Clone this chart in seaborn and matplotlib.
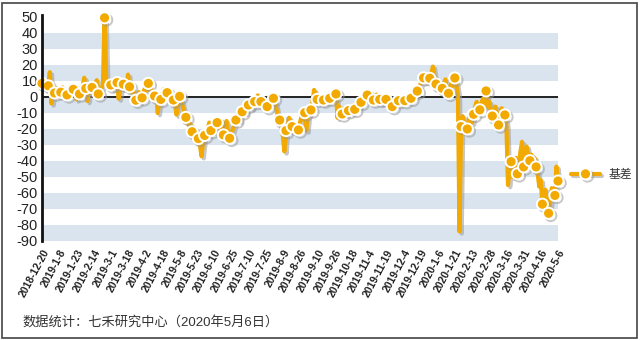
import numpy as np
import pandas as pd
import matplotlib
matplotlib.use("Agg")
import matplotlib.pyplot as plt
import matplotlib.patheffects as pe
from matplotlib.patches import Rectangle
import seaborn as sns

# Daily basis series (one value per trading day, 2018-12-20 .. 2020-05-06)
basis = [
    8.5, 6.0, 5.0, 9.0, 7.0, 15.5, -4.0, 1.0, 2.5, 5.5, 4.0, 2.0,
    3.0, 6.0, 4.5, 0.5, 1.3, 3.0, 6.5, 5.0, 4.8, 3.0, -1.5, 2.5,
    1.9, 4.0, 7.0, 12.0, 5.4, -2.5, 3.5, 8.0, 6.0, 4.0, 7.5, 10.5,
    1.9, 3.0, 5.0, 8.0, 49.5, 12.0, 8.0, 10.0, 7.5, 5.0, 10.0, 6.0,
    9.0, -1.0, 4.0, 7.0, 8.0, 10.5, 6.0, 14.0, 6.4, 3.0, 5.0, 1.0,
    -2.0, 0.5, 3.0, 1.0, -0.5, 3.5, 6.0, 4.0, 8.5, 6.0, 4.0, 2.5,
    0.6, 3.0, -10.0, -3.0, -1.5, 2.0, 5.0, 0.5, 2.7, 1.0, -3.0, 0.0,
    -1.9, -4.0, -11.0, -3.0, 0.4, -2.0, -6.0, -9.0, -12.7, -15.0, -18.0, -17.0,
    -21.7, -24.0, -28.0, -24.0, -26.0, -30.0, -37.0, -29.0, -24.0, -22.0, -20.0, -16.0,
    -21.0, -18.0, -22.0, -19.0, -16.0, -20.0, -24.0, -18.0, -23.7, -20.0, -15.0, -22.0,
    -25.8, -24.0, -20.0, -17.0, -14.4, -12.0, -15.0, -11.0, -9.2, -7.0, -10.0, -6.0,
    -5.0, -4.0, -7.0, -3.0, -2.9, -1.0, 1.0, -4.0, -2.9, -5.0, -1.5, -3.5,
    -6.0, -4.0, -2.0, 0.5, -0.8, -3.0, -8.0, -12.0, -14.4, -18.0, -24.0, -34.0,
    -21.0, -17.0, -13.0, -16.0, -18.5, -22.0, -17.0, -19.0, -20.6, -16.0, -12.0, -14.0,
    -9.8, -21.0, -12.0, -10.0, -8.1, -3.0, 4.4, 1.0, -1.5, -3.0, 0.5, -4.0,
    -1.9, -3.5, 0.0, -2.5, -0.8, 1.0, 3.0, -0.5, 1.9, -13.0, -6.0, -9.0,
    -10.6, -7.0, -11.0, -9.0, -8.5, -6.0, -9.5, -5.0, -7.7, -5.0, -3.0, -6.0,
    -3.3, -1.0, 0.5, 2.5, 1.2, -2.0, 0.0, -3.5, -1.9, 0.0, 1.5, -2.5,
    -1.5, -4.0, -1.0, 0.0, -1.5, -3.0, -4.5, -2.0, -6.0, -4.0, -1.5, -3.0,
    -2.3, -4.0, -1.0, -3.0, -2.3, -1.9, 0.5, -2.0, -0.8, 0.2, 2.0, 0.5,
    3.7, 4.4, 8.0, 10.0, 12.0, 9.5, 11.7, 14.0, 11.7, 15.0, 19.0, 12.0,
    8.1, 10.0, 7.0, 9.0, 5.4, 8.0, 11.0, 4.0, 2.3, 6.0, 9.0, 7.0,
    11.9, 8.0, 1.0, -84.0, -18.5, -12.0, -16.0, -22.0, -20.0, -14.0, -10.0, -16.0,
    -10.8, -6.0, -3.0, -9.0, -8.0, -4.0, -1.0, -5.0, 3.8, -6.0, -3.0, -8.0,
    -11.9, -9.0, -6.0, -13.0, -17.5, -10.0, -7.0, -13.0, -11.2, -18.0, -55.0, -46.0,
    -40.4, -50.0, -44.0, -38.0, -48.0, -42.0, -34.0, -28.0, -43.7, -35.0, -31.0, -37.0,
    -39.8, -36.0, -41.0, -38.0, -43.7, -48.0, -56.0, -52.0, -67.0, -65.0, -58.0, -68.0,
    -72.7, -66.0, -57.0, -60.0, -61.5, -43.5, -52.5,
]

tick_labels = [
    "2018-12-20", "2019-1-8", "2019-1-23", "2019-2-14", "2019-3-1", "2019-3-18",
    "2019-4-2", "2019-4-18", "2019-5-8", "2019-5-23", "2019-6-10", "2019-6-25",
    "2019-7-10", "2019-7-25", "2019-8-9", "2019-8-26", "2019-9-10", "2019-9-26",
    "2019-10-18", "2019-11-4", "2019-11-19", "2019-12-4", "2019-12-19", "2020-1-6",
    "2020-1-21", "2020-2-13", "2020-2-28", "2020-3-16", "2020-3-31", "2020-4-16",
    "2020-5-6",
]

series_name = "基差"
footer = "数据统计：七禾研究中心（2020年5月6日）"

y_ticks = list(range(-90, 51, 10))

sns.set_theme(style="white")
plt.rcParams["font.family"] = ["Liberation Sans", "Noto Sans CJK SC", "DejaVu Sans"]

df = pd.DataFrame({"day": np.arange(len(basis)), "basis": basis})
tick_step = 11

fig = plt.figure(figsize=(6.4, 3.4), dpi=100)
ax = fig.add_axes([42 / 640, 1 - 241 / 340, 516 / 640, 224 / 340])

# alternating horizontal bands
for lo in range(-90, 50, 20):
    ax.axhspan(lo, lo + 10, color="#D9E4EF", lw=0, zorder=0)

ax.axhline(0, color="#222222", lw=1.4, zorder=1)

marks = list(range(0, len(basis), 4))
if marks[-1] != len(basis) - 1:
    marks.append(len(basis) - 1)

orange = "#F2A900"
sns.lineplot(data=df, x="day", y="basis", ax=ax, color=orange, lw=3.0,
             marker="o", markevery=marks, markersize=8,
             markerfacecolor=orange, markeredgecolor="white",
             markeredgewidth=1.4, label=series_name, zorder=3)
line = ax.get_lines()[-1]
line.set_clip_on(False)
line.set_path_effects([
    pe.SimpleLineShadow(offset=(1.6, -1.6), shadow_color="#9a9a9a", alpha=0.55),
    pe.Normal(),
])

ax.set_xlim(0, len(basis) - 1)
ax.set_ylim(-90, 50)
ax.set_yticks(y_ticks)
ax.set_yticklabels([str(v) for v in y_ticks], fontsize=10.5, color="#222222")
ax.set_xticks(np.arange(len(tick_labels)) * tick_step)
ax.set_xticklabels(tick_labels, rotation=62, ha="right", rotation_mode="anchor",
                   fontsize=7.5, color="#222222", fontweight="bold")
ax.tick_params(axis="x", length=0, pad=5)
ax.tick_params(axis="y", length=0, pad=3)
ax.set_xlabel("")
ax.set_ylabel("")

for side in ("top", "right", "bottom"):
    ax.spines[side].set_visible(False)
ax.spines["left"].set_color("#111111")
ax.spines["left"].set_linewidth(2.0)
ax.spines["left"].set_bounds(-90, 51)
ax.spines["left"].set_zorder(4)

leg = ax.legend(loc="center left", bbox_to_anchor=(571 / 640, 1 - 175 / 340),
                bbox_transform=fig.transFigure, frameon=False, fontsize=8.5,
                handlelength=2.45, handletextpad=0.75, borderpad=0, borderaxespad=0)
for t in leg.get_texts():
    t.set_color("#333333")

fig.text(22 / 640, 1 - 322 / 340, footer, fontsize=9.5, color="#333333",
         va="center", ha="left")

fig.patches.append(Rectangle((2 / 640, 2 / 340), 635 / 640, 335 / 340,
                             transform=fig.transFigure, fill=False,
                             edgecolor="#444444", lw=1.2))

fig.savefig("out.png", dpi=100)
